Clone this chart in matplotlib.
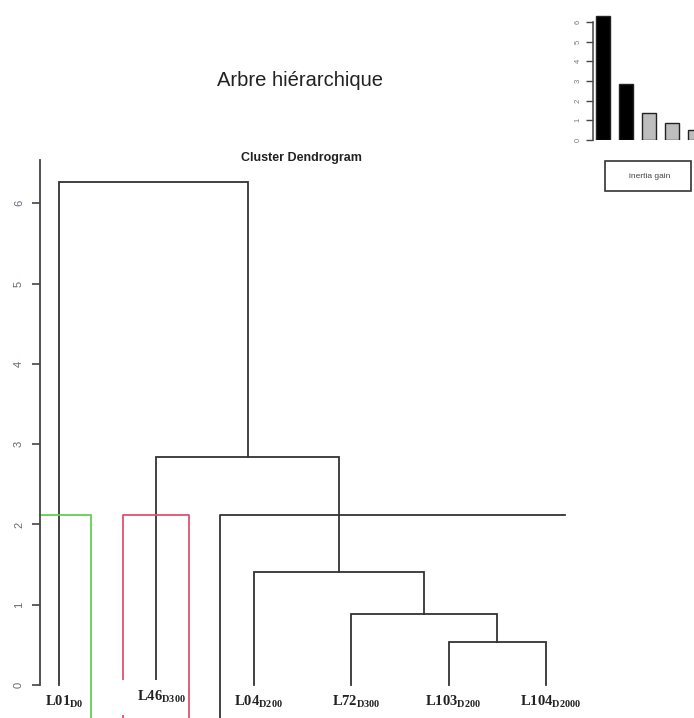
import numpy as np
import matplotlib
matplotlib.use("Agg")
import matplotlib.pyplot as plt
from matplotlib.patches import Rectangle

plt.rcParams['font.family'] = ['Liberation Sans', 'DejaVu Sans']
plt.rcParams['mathtext.fontset'] = 'custom'
plt.rcParams['mathtext.rm'] = 'Liberation Serif:bold'
plt.rcParams['mathtext.bf'] = 'Liberation Serif:bold'

# feuilles de l'arbre (dans l'ordre du dendrogramme)
leaves = ['L01', 'L46', 'L04', 'L72', 'L103', 'L104']
leaf_subs = ['D0', 'D300', 'D200', 'D300', 'D200', 'D2000']
leaf_base = [0, 0.06, 0, 0, 0, 0]

# fusions facon hclust : negatif = feuille, positif = fusion precedente
merge_a = [-5, -4, -3, -2, -1]
merge_b = [-6, 1, 2, 3, 4]
heights = [0.54, 0.88, 1.41, 2.84, 6.26]

# coupure (rect.hclust)
cut_height = 2.12
box_left = [0.805, 1.657, 2.653]
box_right = [1.329, 2.335, 6.195]
box_colors = ['#61D04F', '#DF536B', '#333333']
box_sides = [(False, True), (True, True), (True, False)]

# gain d'inertie (petit barplot)
gain = [6.3, 2.84, 1.38, 0.86, 0.52]
gain_colors = ['black', 'black', '#bebebe', '#bebebe', '#bebebe']

W, H = 694, 718
fig = plt.figure(figsize=(W / 100, H / 100), dpi=100)

# axe principal
ax = fig.add_axes([40 / W, 0, (W - 40) / W, (H - 150) / H])
ax.set_xlim(0.805, 7.52)
ax.set_ylim((685 - 718) / 80.3, (685 - 150) / 80.3)

line_col = '#333333'
lw = 1.3

# positions des feuilles / fusions
xpos = {}
top = {}
for i in range(len(leaves)):
    xpos[-(i + 1)] = i + 1
    top[-(i + 1)] = leaf_base[i]

for k in range(len(heights)):
    a, b, h = merge_a[k], merge_b[k], heights[k]
    xa, xb = xpos[a], xpos[b]
    ax.plot([xa, xa, xb, xb], [top[a], h, h, top[b]], color=line_col, lw=lw,
            solid_joinstyle='miter')
    xpos[k + 1] = (xa + xb) / 2
    top[k + 1] = h

# rectangles de coupure
y_low = -1.0
for l, r, c, (sl, sr) in zip(box_left, box_right, box_colors, box_sides):
    xs, ys = [], []
    if sl:
        xs += [l]
        ys += [y_low]
    xs += [l, r]
    ys += [cut_height, cut_height]
    if sr:
        xs += [r]
        ys += [y_low]
    ax.plot(xs, ys, color=c, lw=lw, clip_on=False)

# cache blanc derriere l'etiquette L46
ax.add_patch(Rectangle((1.606, -0.374), 0.657, 0.434, facecolor='white',
                       edgecolor='none', zorder=3))

# etiquettes des feuilles
for i, (lab, sub) in enumerate(zip(leaves, leaf_subs)):
    ax.text(i + 1 + 0.05, leaf_base[i] - 0.1, r'$\mathbf{%s}_{\mathbf{%s}}$' % (lab, sub),
            ha='center', va='top', fontsize=10.5, color='#222222', zorder=4)

for s in ['top', 'right', 'bottom']:
    ax.spines[s].set_visible(False)
ax.spines['left'].set_bounds(0, 6.54)
ax.spines['left'].set_color('#444444')
ax.spines['left'].set_linewidth(1.3)
ax.set_xticks([])
ax.set_yticks(range(0, 7))
ax.tick_params(axis='y', length=5.5, width=1.2, color='#444444', pad=6,
               labelsize=8, labelcolor='#666677')
plt.setp(ax.get_yticklabels(), rotation=90, va='center')

# titres
fig.text(300 / W, 1 - 80 / H, 'Arbre hiérarchique', ha='center', va='center',
         fontsize=14.5, color='#222222')
fig.text(301 / W, 1 - 158 / H, 'Cluster Dendrogram', ha='center', va='center',
         fontsize=9, fontweight='bold', color='#222222')

# petit barplot du gain d'inertie
ax2 = fig.add_axes([593 / W, (H - 140) / H, (W - 593) / W, 135 / H])
xb = np.arange(1, len(gain) + 1)
ax2.bar(xb, gain, width=0.6, color=gain_colors, edgecolor='#222222', linewidth=1)
ax2.set_xlim(1 - 10 / 23, 1 + 91 / 23)
ax2.set_ylim(0, 135 / 19.7)
for s in ['top', 'right', 'bottom']:
    ax2.spines[s].set_visible(False)
ax2.spines['left'].set_bounds(0, 6)
ax2.spines['left'].set_color('#444444')
ax2.spines['left'].set_linewidth(1.1)
ax2.set_xticks([])
ax2.set_yticks(range(0, 7))
ax2.tick_params(axis='y', length=5, width=1, color='#444444', pad=3,
                labelsize=5.5, labelcolor='#777788')
plt.setp(ax2.get_yticklabels(), rotation=90, va='center')

# boite "inertia gain"
fig.patches.append(Rectangle((605 / W, 1 - 191 / H), 86 / W, 30 / H,
                             transform=fig.transFigure, facecolor='white',
                             edgecolor='#333333', linewidth=1.2))
fig.text(650 / W, 1 - 177 / H, 'inertia gain', ha='center', va='center',
         fontsize=6, color='#444444')

fig.savefig('out.png', dpi=100)
